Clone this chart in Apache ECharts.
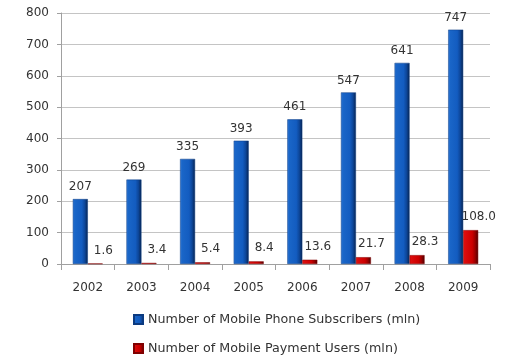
<!DOCTYPE html>
<html>
<head>
<meta charset="utf-8">
<script src="https://cdn.jsdelivr.net/npm/echarts@6/dist/echarts.min.js"></script>
<style>html,body{margin:0;padding:0;background:#fff;}#c{width:519px;height:358px;}</style>
</head>
<body>
<div id="c"></div>
<script>
var categories = ['2002','2003','2004','2005','2006','2007','2008','2009'];
var subscribers = [207, 269, 335, 393, 461, 547, 641, 747];
var paymentUsers = [1.6, 3.4, 5.4, 8.4, 13.6, 21.7, 28.3, 108.0];
var yTicks = [0, 100, 200, 300, 400, 500, 600, 700, 800];
var seriesNames = ['Number of Mobile Phone Subscribers (mln)', 'Number of Mobile Payment Users (mln)'];

var FONT = 'DejaVu Sans';
var chart = echarts.init(document.getElementById('c'), null, {renderer: 'canvas'});

function grad(stops) {
  return new echarts.graphic.LinearGradient(0, 0, 1, 0, stops);
}
function legendAt(top, name) {
  return {
    left: 128,
    top: top,
    itemWidth: 9,
    itemHeight: 9,
    itemGap: 10,
    icon: 'rect',
    textStyle: {fontFamily: FONT, fontSize: 12.7, color: '#333'},
    data: [name]
  };
}

chart.setOption({
  animation: false,
  backgroundColor: '#ffffff',
  grid: {left: 61, right: 29, top: 13, bottom: 94, containLabel: false},
  legend: [legendAt(308, seriesNames[0]), legendAt(337, seriesNames[1])],
  xAxis: {
    type: 'category',
    data: categories,
    axisLine: {show: true, lineStyle: {color: '#a0a0a0'}},
    axisTick: {show: true, length: 6, lineStyle: {color: '#a0a0a0'}},
    axisLabel: {fontFamily: FONT, fontSize: 12, color: '#333', margin: 18}
  },
  yAxis: {
    type: 'value',
    min: yTicks[0],
    max: yTicks[yTicks.length - 1],
    interval: 100,
    axisLine: {show: true, lineStyle: {color: '#a0a0a0'}},
    axisTick: {show: true, length: 4, lineStyle: {color: '#a0a0a0'}},
    splitLine: {lineStyle: {color: '#c4c4c4'}},
    axisLabel: {fontFamily: FONT, fontSize: 12, color: '#333', margin: 12}
  },
  series: [
    {
      name: seriesNames[0],
      type: 'bar',
      data: subscribers,
      barWidth: 15,
      barGap: '0%',
      itemStyle: {
        color: grad([
          {offset: 0, color: '#3a80dc'},
          {offset: 0.12, color: '#1a66c8'},
          {offset: 0.6, color: '#135cc0'},
          {offset: 0.8, color: '#0d4699'},
          {offset: 1, color: '#06234f'}
        ]),
        borderColor: '#0b3a80',
        borderWidth: 0.5
      },
      label: {
        show: true, position: 'top', distance: 6,
        fontFamily: FONT, fontSize: 12, color: '#333'
      }
    },
    {
      name: seriesNames[1],
      type: 'bar',
      data: paymentUsers,
      barWidth: 15,
      itemStyle: {
        color: grad([
          {offset: 0, color: '#e01010'},
          {offset: 0.6, color: '#cc0000'},
          {offset: 0.8, color: '#990000'},
          {offset: 1, color: '#4a0000'}
        ]),
        borderColor: '#800000',
        borderWidth: 0.5
      },
      label: {
        show: true, position: 'top', distance: 7, offset: [8, 0],
        fontFamily: FONT, fontSize: 12, color: '#333',
        formatter: function (p) { return p.value.toFixed(1); }
      }
    }
  ]
});
</script>
</body>
</html>
